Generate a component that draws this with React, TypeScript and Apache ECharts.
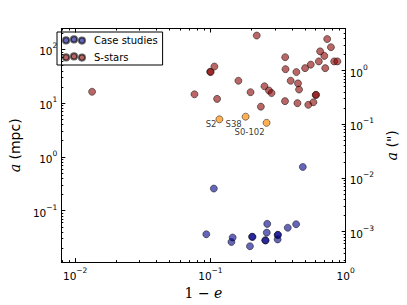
import React, { useEffect, useRef } from "react";
import * as echarts from "echarts";

// Case studies (1 - e, a in mpc)
const caseX = [0.0932, 0.106, 0.143, 0.146, 0.196, 0.203, 0.205, 0.254, 0.256, 0.261, 0.263, 0.314, 0.314, 0.316, 0.373, 0.43, 0.482];
const caseY = [0.0363, 0.257, 0.0261, 0.0316, 0.0217, 0.0326, 0.0324, 0.028, 0.0278, 0.0389, 0.0566, 0.0291, 0.0352, 0.0355, 0.048, 0.0558, 0.65];

// S-stars
const starX = [0.01334, 0.0762, 0.0995, 0.1005, 0.107, 0.112, 0.161, 0.198, 0.22, 0.236, 0.251, 0.271, 0.283, 0.357, 0.359, 0.356, 0.392, 0.432, 0.444, 0.452, 0.44, 0.501, 0.529, 0.552, 0.577, 0.6, 0.604, 0.633, 0.647, 0.695, 0.706, 0.73, 0.778, 0.822, 0.868];
const starY = [16.3, 14.6, 38.4, 38.0, 48, 12.0, 26.1, 16.0, 181, 8.6, 20.6, 17.2, 15.4, 71.7, 42.9, 10.9, 26.1, 37.9, 23.3, 17.9, 10.0, 44.8, 9.3, 52.1, 10.4, 14.2, 14.3, 59.8, 92, 75.8, 44.8, 156, 110, 59.8, 59.8];

// Labelled stars
const namedStars = ["S2", "S38", "S0-102"];
const namedX = [0.1165, 0.182, 0.26];
const namedY = [5.0, 5.6, 4.3];

// Axis ticks
const xMajor = [0.01, 0.1, 1];
const yMajor = [0.1, 1, 10, 100];
const arcMajor = [0.001, 0.01, 0.1, 1];
const MPC_PER_ARCSEC = 40.4;

const X_MIN = 0.0079, X_MAX = 1;
const Y_MIN = 0.011, Y_MAX = 245;

function minorTicks(lo: number, hi: number): number[] {
  const out: number[] = [];
  for (let e = -5; e <= 3; e++) {
    for (let k = 2; k <= 9; k++) {
      const v = k * Math.pow(10, e);
      if (v >= lo && v <= hi) out.push(v);
    }
  }
  return out;
}

const labelLayout = [
  { distance: -1, offset: [0, 5] },
  { distance: 0, offset: [0, 7] },
  { distance: -2, offset: [0, 9] },
];

const FONT = "DejaVu Sans";

function powFormatter(v: number) {
  const e = Math.round(Math.log10(v));
  const s = e < 0 ? "−" + -e : String(e);
  return `{b|10}{s|${s}}`;
}

const labelRich = {
  b: { fontSize: 10.5, fontFamily: FONT, color: "#000", lineHeight: 15, verticalAlign: "bottom" },
  s: { fontSize: 7.5, fontFamily: FONT, color: "#000", lineHeight: 15, verticalAlign: "top" },
};

function mainAxis(extra: any, major: number[], showLabel: boolean) {
  return {
    type: "log",
    logBase: 10,
    axisLine: { show: true, onZero: false, lineStyle: { color: "#000", width: 1 } },
    axisTick: { show: true, inside: true, length: 4, customValues: major, lineStyle: { color: "#000", width: 1 } },
    axisLabel: showLabel
      ? { show: true, customValues: major, formatter: powFormatter, rich: labelRich, margin: 4 }
      : { show: false },
    splitLine: { show: false },
    minorTick: { show: false },
    ...extra,
  };
}

function minorAxis(extra: any, minor: number[]) {
  return {
    type: "log",
    logBase: 10,
    axisLine: { show: false, onZero: false },
    axisTick: { show: true, inside: true, length: 2, customValues: minor, lineStyle: { color: "#000", width: 1 } },
    axisLabel: { show: false },
    splitLine: { show: false },
    ...extra,
  };
}

const iconPath =
  "path://M0,4.6a3,3 0 1,0 6,0a3,3 0 1,0 -6,0Z" +
  "M7.8,3.6a3,3 0 1,0 6,0a3,3 0 1,0 -6,0Z" +
  "M15.6,4.8a3,3 0 1,0 6,0a3,3 0 1,0 -6,0Z";

export default function App() {
  const ref = useRef<HTMLDivElement>(null);
  useEffect(() => {
    if (!ref.current) return;
    const chart = echarts.init(ref.current, null, { renderer: "svg" });
    const aMin = Y_MIN / MPC_PER_ARCSEC;
    const aMax = Y_MAX / MPC_PER_ARCSEC;
    const xr = { min: X_MIN, max: X_MAX };
    const yr = { min: Y_MIN, max: Y_MAX };
    const ar = { min: aMin, max: aMax };
    const border = { borderColor: "rgba(0,0,0,0.75)", borderWidth: 0.8 };

    chart.setOption({
      animation: false,
      textStyle: { fontFamily: FONT },
      grid: { left: 54, right: 57, top: 28.5, bottom: 36, containLabel: false },
      xAxis: [
        mainAxis({
          ...xr, position: "bottom",
          name: "{n|1 − }{i|e}",
          nameLocation: "middle",
          nameGap: 13,
          nameTextStyle: {
            rich: {
              n: { fontFamily: "DejaVu Serif", fontSize: 14, color: "#000" },
              i: { fontFamily: "DejaVu Serif", fontStyle: "italic", fontSize: 14, color: "#000" },
            },
          },
        }, xMajor, true),
        minorAxis({ ...xr, position: "bottom" }, minorTicks(X_MIN, X_MAX)),
        mainAxis({ ...xr, position: "top" }, xMajor, false),
        minorAxis({ ...xr, position: "top" }, minorTicks(X_MIN, X_MAX)),
      ],
      yAxis: [
        mainAxis({
          ...yr, position: "left",
          name: "{i|a} (mpc)",
          nameLocation: "middle",
          nameGap: 36,
          nameTextStyle: {
            rich: {
              i: { fontFamily: "DejaVu Serif", fontStyle: "italic", fontSize: 14, color: "#000" },
            },
            fontSize: 14, color: "#000",
          },
        }, yMajor, true),
        minorAxis({ ...yr, position: "left" }, minorTicks(Y_MIN, Y_MAX)),
        mainAxis({
          ...ar, position: "right",
          name: "{i|a} (\")",
          nameLocation: "middle",
          nameGap: 33,
          nameTextStyle: {
            rich: {
              i: { fontFamily: "DejaVu Serif", fontStyle: "italic", fontSize: 14, color: "#000" },
            },
            fontSize: 14, color: "#000",
          },
        }, arcMajor, true),
        minorAxis({ ...ar, position: "right" }, minorTicks(aMin, aMax)),
      ],
      legend: {
        data: ["Case studies", "S-stars"],
        orient: "vertical",
        left: 57,
        top: 32,
        padding: [2, 5, 2, 5],
        itemGap: 5,
        itemWidth: 22,
        itemHeight: 8,
        icon: iconPath,
        borderColor: "#000",
        borderWidth: 1,
        textStyle: { fontSize: 10, fontFamily: FONT, color: "#000", lineHeight: 12, padding: [0, 0, 0, 4] },
      },
      series: [
        {
          name: "Case studies",
          type: "scatter",
          xAxisIndex: 0,
          yAxisIndex: 0,
          symbolSize: 7,
          itemStyle: { color: "rgba(0,0,139,0.75)", ...border },
          data: caseX.map((x, i) => [x, caseY[i]]),
        },
        {
          name: "S-stars",
          type: "scatter",
          xAxisIndex: 0,
          yAxisIndex: 0,
          symbolSize: 7,
          itemStyle: { color: "rgba(139,0,0,0.75)", ...border },
          data: starX.map((x, i) => [x, starY[i]]),
        },
        {
          name: "named",
          type: "scatter",
          xAxisIndex: 0,
          yAxisIndex: 0,
          symbolSize: 7,
          itemStyle: { color: "rgba(255,140,0,0.85)", ...border },
          data: namedX.map((x, i) => ({
            name: namedStars[i],
            value: [x, namedY[i]],
            label: {
              show: true,
              position: "left",
              formatter: "{b}",
              fontSize: 8.5,
              lineHeight: 9,
              fontFamily: FONT,
              color: "#000",
              distance: labelLayout[i].distance,
              offset: labelLayout[i].offset,
            },
          })),
        },
      ],
    });
    return () => chart.dispose();
  }, []);
  return <div ref={ref} style={{ width: 407, height: 305, position: "absolute", left: 0, top: 0 }} />;
}
